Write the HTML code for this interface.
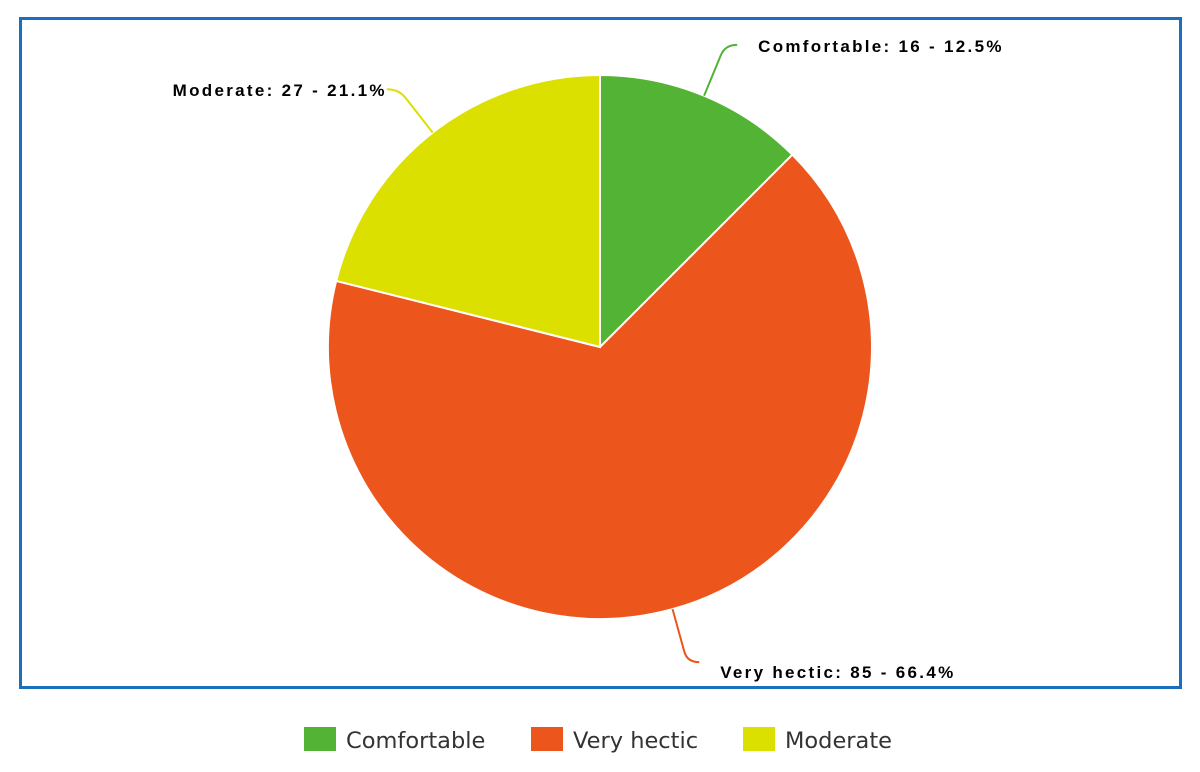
<!DOCTYPE html>
<html><head><meta charset="utf-8"><style>
html,body{margin:0;padding:0;background:#fff;}
body{width:1200px;height:767px;overflow:hidden;font-family:"Liberation Sans","DejaVu Sans",sans-serif;}
</style></head><body>
<svg id="chart" width="1200" height="767" viewBox="0 0 1200 767" xmlns="http://www.w3.org/2000/svg">
<rect x="20.5" y="18.5" width="1160" height="669" fill="#fff" stroke="#1a6fbe" stroke-width="3"/>
<g id="slices"></g>
<g id="labels"></g>
<g id="legend"></g>
</svg>
<script>
const categories = ["Comfortable", "Very hectic", "Moderate"];
const values = [16, 85, 27];
const percents = ["12.5%", "66.4%", "21.1%"];
const colors = ["#52b334", "#ec561d", "#dce000"];

const NS = "http://www.w3.org/2000/svg";
const cx = 600, cy = 347, r = 272;
const total = values.reduce((a, b) => a + b, 0);
const slicesG = document.getElementById("slices");
const labelsG = document.getElementById("labels");
const legendG = document.getElementById("legend");
function pt(angle, rad) { return [cx + rad * Math.sin(angle), cy - rad * Math.cos(angle)]; }
let acc = 0;
values.forEach((v, i) => {
  const a0 = acc / total * 2 * Math.PI;
  acc += v;
  const a1 = acc / total * 2 * Math.PI;
  const p0 = pt(a0, r), p1 = pt(a1, r);
  const large = (a1 - a0) > Math.PI ? 1 : 0;
  const path = document.createElementNS(NS, "path");
  path.setAttribute("d", `M${cx},${cy} L${p0[0]},${p0[1]} A${r},${r} 0 ${large} 1 ${p1[0]},${p1[1]} Z`);
  path.setAttribute("fill", colors[i]);
  path.setAttribute("stroke", "#fff");
  path.setAttribute("stroke-width", "2");
  
  
  slicesG.appendChild(path);

  const mid = (a0 + a1) / 2;
  const e = pt(mid, r), el = pt(mid, r + 55);
  const right = Math.sin(mid) >= 0;
  const top = Math.cos(mid) > 0;
  const endX = el[0] + (right ? 12 : -12);
  const conn = document.createElementNS(NS, "path");
  conn.setAttribute("d", `M${e[0]},${e[1]} L${el[0] - (el[0]-e[0])*0.2},${el[1] - (el[1]-e[1])*0.2} Q${el[0]},${el[1]} ${endX},${el[1]}`);
  conn.setAttribute("fill", "none");
  conn.setAttribute("stroke", colors[i]);
  conn.setAttribute("stroke-width", "2");
  
  
  labelsG.appendChild(conn);

  const t = document.createElementNS(NS, "text");
  t.setAttribute("x", right ? endX + 21 : endX);
  t.setAttribute("y", el[1] + (top ? 7 : 16));
  t.setAttribute("text-anchor", right ? "start" : "end");
  t.setAttribute("font-family", "Liberation Sans, Arial, sans-serif");
  t.setAttribute("font-size", "17");
  t.setAttribute("font-weight", "bold");
  t.setAttribute("letter-spacing", "2.3");
  t.setAttribute("fill", "#000");
  t.textContent = categories[i] + ": " + v + " - " + percents[i];
  
  
  labelsG.appendChild(t);
});
const legX = [304, 531, 743];
categories.forEach((c, i) => {
  const g = document.createElementNS(NS, "g");
  
  
  const s = document.createElementNS(NS, "rect");
  s.setAttribute("x", legX[i]); s.setAttribute("y", 727);
  s.setAttribute("width", 32); s.setAttribute("height", 24);
  s.setAttribute("fill", colors[i]);
  
  
  const t = document.createElementNS(NS, "text");
  t.setAttribute("x", legX[i] + 42); t.setAttribute("y", 748);
  t.setAttribute("font-size", "22.5"); t.setAttribute("fill", "#333");
  t.setAttribute("font-family", "DejaVu Sans, Liberation Sans, sans-serif");
  t.textContent = c;
  
  
  g.appendChild(s); g.appendChild(t);
  legendG.appendChild(g);
});
</script>
</body></html>
